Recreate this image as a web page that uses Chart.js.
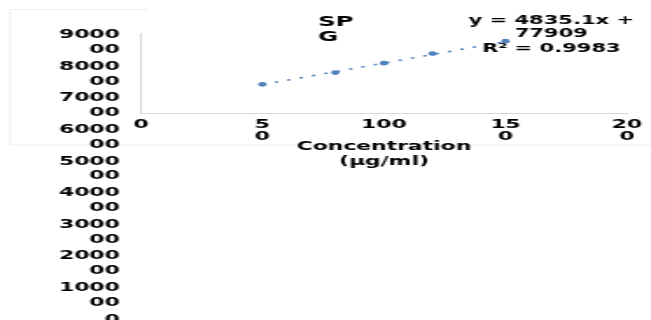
<!DOCTYPE html>
<html>
<head>
<meta charset="utf-8">
<script src="https://cdn.jsdelivr.net/npm/chart.js@4.4.1/dist/chart.umd.min.js"></script>
<style>
  html, body { margin: 0; padding: 0; background: #fff; overflow: hidden; width: 651px; height: 320px; }
  /* the source picture is stretched sideways, so the whole chart is drawn narrow and widened */
  #wrap { position: absolute; left: 0; top: 0; width: 372px; height: 370px; transform: scaleX(1.75); transform-origin: 0 0; }
  #chart { display: block; }
</style>
</head>
<body>
<div id="wrap"><canvas id="chart" width="372" height="370"></canvas></div>
<script>
// ── Data ────────────────────────────────────────────────────────────────────
const concentrations = [50, 80, 100, 120, 150];
const responses      = [323000, 455000, 560000, 668000, 808000];

const trendX = [50, 150];
const trendY = [320000, 803000];

const xTickValues = [0, 50, 100, 150, 200];
const xTickLabels = [['0'], ['5', '0'], ['100'], ['15', '0'], ['20', '0']];

const yTickValues = [0, 100000, 200000, 300000, 400000, 500000, 600000, 700000, 800000, 900000];
const yTickLabels = [['0'], ['1000', '00'], ['2000', '00'], ['3000', '00'], ['4000', '00'],
                     ['5000', '00'], ['6000', '00'], ['7000', '00'], ['8000', '00'], ['9000', '00']];

const chartTitle    = ['SP', 'G'];
const equationLines = ['y = 4835.1x +', '77909', 'R² = 0.9983'];
const axisTitle     = ['Concentration', '(µg/ml)'];

// ── Layout (inner, un-stretched pixels) ─────────────────────────────────────
const FONT = "'DejaVu Sans', sans-serif";
const BLUE = '#4f81bd';
const CANVAS_H = 370;                       // taller than the window; the label column runs off the bottom
const AREA_TOP = 42.4, AREA_BOTTOM = 326.8; // span of the long y-label column
const PLOT_TOP = 33, PLOT_BOTTOM = 113;     // the small box the points live in
const PLOT_MAX = 900000;
const perPx = PLOT_MAX / (PLOT_BOTTOM - PLOT_TOP);

// ── Decorations: frame, y axis line, title, equation ────────────────────────
const decorations = {
  id: 'decorations',
  beforeDraw(chart) {
    const ctx = chart.ctx;
    ctx.save();
    ctx.strokeStyle = '#e3e3e3';
    ctx.lineWidth = 0.6;
    ctx.beginPath();
    ctx.moveTo(5.7, 145); ctx.lineTo(5.7, 9.5); ctx.lineTo(84.6, 9.5);
    ctx.moveTo(5.7, 145); ctx.lineTo(372, 145);
    ctx.stroke();
    ctx.restore();
  },
  afterDraw(chart) {
    const ctx = chart.ctx;
    const xs = chart.scales.x, ys = chart.scales.y;
    ctx.save();
    // vertical axis line of the small plot
    const x0 = xs.getPixelForValue(0);
    ctx.strokeStyle = '#bfbfbf';
    ctx.lineWidth = 0.6;
    ctx.beginPath();
    ctx.moveTo(x0, ys.getPixelForValue(0));
    ctx.lineTo(x0, ys.getPixelForValue(PLOT_MAX));
    ctx.stroke();

    ctx.fillStyle = '#000';
    ctx.textBaseline = 'middle';
    ctx.font = 'bold 14px ' + FONT;
    ctx.textAlign = 'left';
    ctx.fillText(chartTitle[0], 181.7, 22);
    ctx.fillText(chartTitle[1], 181.7, 37);

    ctx.font = 'bold 12px ' + FONT;
    ctx.textAlign = 'center';
    ctx.fillText(equationLines[0], 315, 21);
    ctx.fillText(equationLines[1], 315, 34);
    ctx.fillText(equationLines[2], 315, 49);
    ctx.restore();
  }
};

const yFont = { family: FONT, size: 12.5, weight: 'bold', lineHeight: 1.18 };
const xFont = { family: FONT, size: 12.5, weight: 'bold', lineHeight: 1.02 };
const titleFont = { family: FONT, size: 12.5, weight: 'bold', lineHeight: 1.2 };

new Chart(document.getElementById('chart'), {
  data: {
    datasets: [{
      type: 'scatter',
      data: concentrations.map((x, i) => ({ x, y: responses[i] })),
      backgroundColor: BLUE,
      borderWidth: 0,
      pointRadius: 2.4,
      clip: false,
      order: 1,
    }, {
      type: 'line',
      data: trendX.map((x, i) => ({ x, y: trendY[i] })),
      borderColor: BLUE,
      borderWidth: 1.5,
      borderDash: [2, 5.4],
      pointRadius: 0,
      fill: false,
      clip: false,
      order: 2,
    }],
  },
  options: {
    responsive: false,
    animation: false,
    events: [],
    // bottom padding kept larger than the label column's own padding so it wins
    layout: { padding: { left: 0, top: AREA_TOP, right: 12.6, bottom: CANVAS_H - AREA_BOTTOM } },
    plugins: { legend: { display: false }, tooltip: { enabled: false }, title: { display: false } },
    scales: {
      x: {
        type: 'linear',
        min: 0, max: 200,
        position: { y: 0 },
        afterBuildTicks: s => { s.ticks = xTickValues.map(v => ({ value: v })); },
        grid: { display: false, drawTicks: false },
        border: { display: true, color: '#d9d9d9', width: 1 },
        ticks: {
          autoSkip: false, maxRotation: 0, padding: 5, color: '#000', font: xFont,
          callback: (v, i) => xTickLabels[i],
        },
        title: { display: true, text: axisTitle, color: '#000', font: titleFont, padding: { top: -9, bottom: 0 } },
      },
      y: {
        type: 'linear',
        display: false,
        min: -(AREA_BOTTOM - PLOT_BOTTOM) * perPx,
        max: (PLOT_BOTTOM - AREA_TOP) * perPx,
      },
      yL: {
        type: 'linear',
        position: 'left',
        min: 0, max: 900000,
        afterBuildTicks: s => { s.ticks = yTickValues.map(v => ({ value: v })); },
        afterFit: s => { s.width = 80.5; },
        grid: { display: false, drawTicks: false },
        border: { display: false },
        ticks: {
          autoSkip: false, padding: 12, color: '#000', font: yFont,
          // every label is laid out as two lines, so a one-line label sits on the first
          callback: (v, i) => yTickLabels[i].length === 2 ? yTickLabels[i] : [yTickLabels[i][0], ''],
        },
      },
    },
  },
  plugins: [decorations],
});
</script>
</body>
</html>
